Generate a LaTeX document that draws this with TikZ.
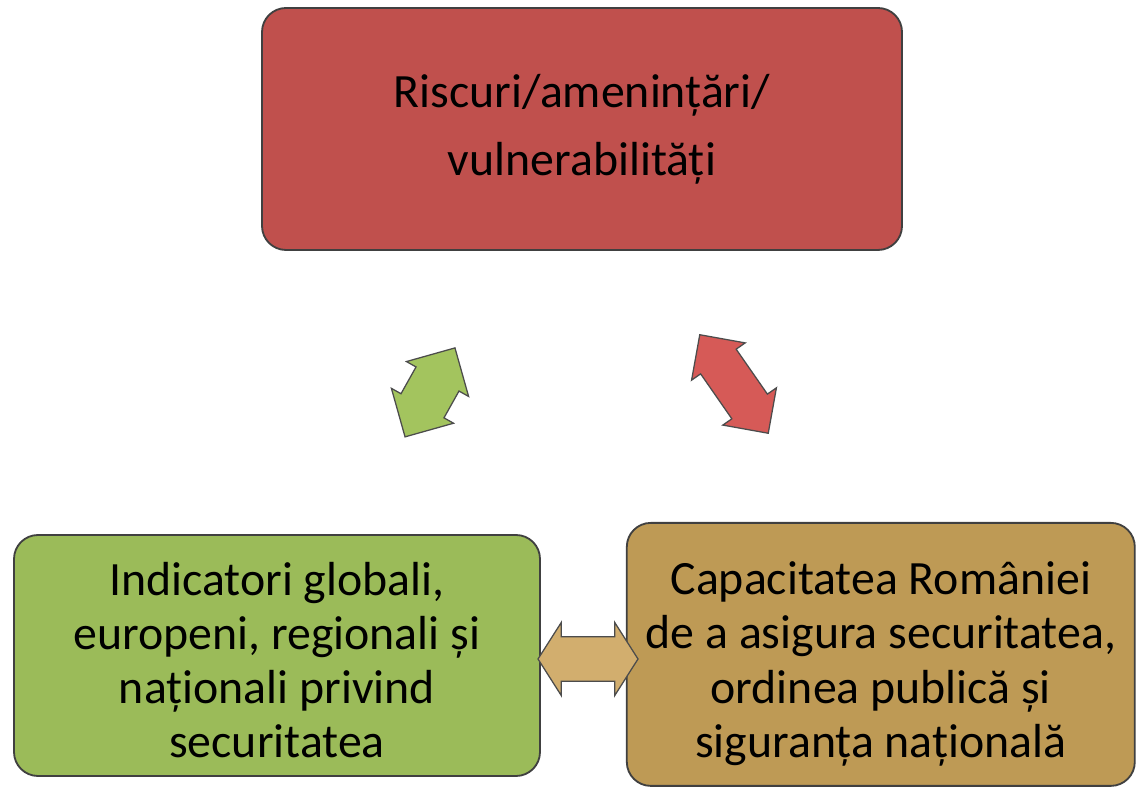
\documentclass[tikz,border=0pt]{standalone}
\usepackage{fontspec}
\setmainfont{Carlito}
\usetikzlibrary{shapes.arrows}

\definecolor{redbox}{HTML}{C0504D}
\definecolor{greenbox}{HTML}{9BBB59}
\definecolor{goldbox}{HTML}{BE9A55}
\definecolor{redarrow}{HTML}{D65A57}
\definecolor{greenarrow}{HTML}{A3C45E}
\definecolor{goldarrow}{HTML}{D2AE6E}

\tikzset{
	box/.style={draw=black!75, line width=1.3pt, rounded corners=0.6cm, align=center,
		font=\fontsize{34}{38.5}\selectfont, inner sep=0pt},
	dblarrow/.style={double arrow, draw=black!70, line width=0.9pt,
		double arrow tip angle=90}
}

\begin{document}
\begin{tikzpicture}
		\useasboundingbox (0,0) rectangle (28.4,19.75);
		\fill[white] (0,0) rectangle (28.4,19.75);
		
		\node[box, fill=redbox, minimum width=16cm, minimum height=6.05cm] (risc) at (14.55,16.525)
			{\raisebox{-0.1cm}{Riscuri/amenințări/}\\[0.45cm]vulnerabilități};
		\node[box, fill=greenbox, minimum width=13.15cm, minimum height=6.025cm] (indic) at (6.925,3.3625)
			{\rule{0pt}{1.05cm}Indicatori globali,\\europeni, regionali și\\naționali privind\\securitatea};
		\node[box, fill=goldbox, minimum width=12.7cm, minimum height=6.575cm] (capac) at (22.02,3.39)
			{\rule{0pt}{1.3cm}Capacitatea României\\de a asigura securitatea,\\ordinea publică și\\siguranța națională};
		
		% sagetile dintre casete
		\node[dblarrow, fill=greenarrow, rotate=60.7, minimum height=2.55cm, inner sep=0.6cm,
			double arrow head extend=0.275cm] (arrG) at (10.75,9.94) {};
		\node[dblarrow, fill=redarrow, rotate=-55.2, minimum height=3cm, inner sep=0.525cm,
			double arrow head extend=0.275cm] (arrR) at (18.35,10.15) {};
		\node[dblarrow, fill=goldarrow, double arrow tip angle=115, minimum height=2.5cm,
			inner sep=0.54cm, double arrow head extend=0.36cm] (arrY) at (14.7,3.275) {};
	\end{tikzpicture}
\end{document}
